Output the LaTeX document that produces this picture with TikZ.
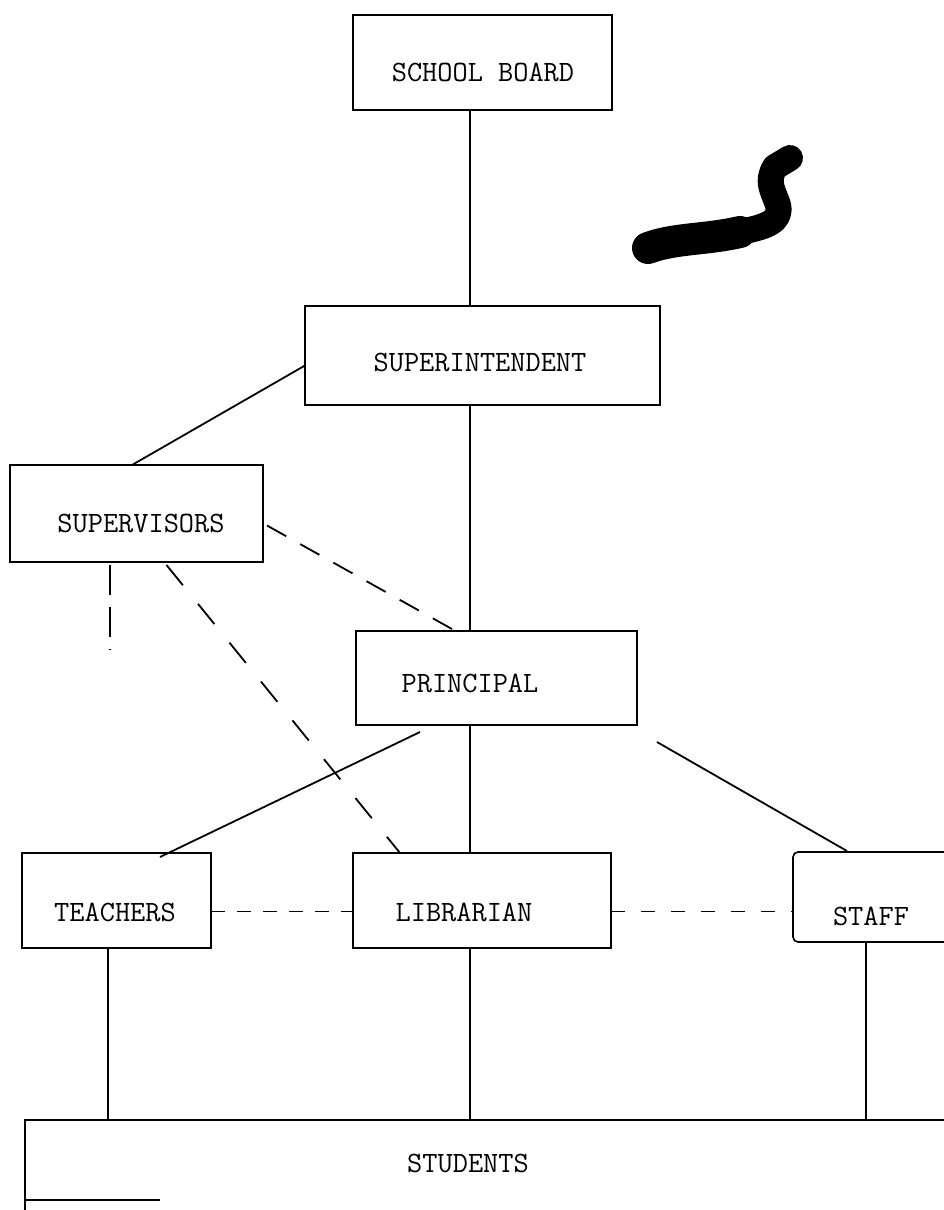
\documentclass[tikz,border=0pt]{standalone}
\usetikzlibrary{calc}
\newcommand\lbl[3]{\raisebox{\dimexpr-#2-9pt\relax}[0pt][0pt]{\makebox[0pt]{\kern#1\relax #3\kern-#1\relax}}}
\begin{document}
\begin{tikzpicture}[x=1pt,y=-1pt,
  box/.style={draw, line width=1.6pt, rectangle, inner sep=0pt, outer sep=0pt,
              font=\fontsize{29.5}{32}\selectfont\ttfamily},
  openbox/.style={box, draw=none},
  solidc/.style={line width=1.8pt},
  thinc/.style={line width=1.1pt},
  dashc/.style={line width=1.8pt, dash pattern=on 22pt off 16pt},
  blob/.style={line cap=round, line join=round}]
\useasboundingbox (0,0) rectangle (944,1210);
\clip (0,0) rectangle (944,1210);
\fill[white] (0,0) rectangle (944,1210);

\coordinate (colx) at (470,0);

\node[box, minimum width=259pt, minimum height=95pt] (SB) at (482.5,62.5) {\lbl{0.5pt}{9.5pt}{SCHOOL BOARD}};
\node[box, minimum width=355pt, minimum height=99pt] (SI) at (482.5,355.5) {\lbl{-2.5pt}{6.5pt}{SUPERINTENDENT}};
\node[box, minimum width=253pt, minimum height=97pt] (SV) at (136.5,513.5) {\lbl{4.5pt}{9.5pt}{SUPERVISORS}};
\node[box, minimum width=281pt, minimum height=94pt] (PR) at (496.5,678) {\lbl{-26.5pt}{5pt}{PRINCIPAL}};
\node[box, minimum width=189pt, minimum height=95pt] (TE) at (116.5,900.5) {\lbl{-1.5pt}{11.5pt}{TEACHERS}};
\node[box, minimum width=258pt, minimum height=95pt] (LI) at (482,900.5) {\lbl{-18pt}{11.5pt}{LIBRARIAN}};
\node[box, rounded corners=5pt, minimum width=182pt, minimum height=90pt] (ST) at (884,897) {\lbl{-13pt}{19pt}{STAFF}};
\node[openbox, minimum width=950pt, minimum height=80pt] (STU) at (500,1160) {\lbl{-32pt}{3pt}{STUDENTS}};
\draw[line width=1.6pt] ([yshift=-15pt]STU.south west) |- (STU.north east);
\draw[line width=1.6pt] (STU.south west) -- ++(135,0);

% vertical trunk
\draw[thinc] (SB.south -| colx) -- (SI.north -| colx);
\draw[thinc] (SI.south -| colx) -- (PR.north -| colx);
\draw[thinc] (PR.south -| colx) -- (LI.north -| colx);
\draw[thinc] (LI.south -| colx) -- (STU.north -| colx);

% solid connectors
\draw[solidc] ([yshift=-10pt]SI.west) -- ([xshift=-4.5pt]SV.north);
\draw[solidc] ([xshift=-76.5pt,yshift=-7pt]PR.south) -- ([xshift=43.5pt,yshift=-4pt]TE.north);
\draw[solidc] ([xshift=20pt,yshift=-17pt]PR.south east) -- ([xshift=54pt,yshift=1pt]ST.north west);
\draw[thinc] ([xshift=-8.5pt]TE.south) -- ([xshift=-8.5pt]TE.south |- STU.north);
\draw[thinc] ([xshift=-18pt]ST.south) -- ([xshift=-18pt]ST.south |- STU.north);

% dashed connectors
\coordinate (svend) at (110,650);
\draw[dashc] ([xshift=4pt,yshift=-12pt]SV.east) -- ([xshift=-41pt]PR.north);
\draw[dashc, dash pattern=on 26pt off 24pt] ([xshift=30pt,yshift=-3pt]SV.south) -- ([xshift=-82pt]LI.north);
\draw[thinc, dash pattern=on 30pt off 12pt] ([xshift=-26.5pt,yshift=-3pt]SV.south) -- (svend);
\draw[dashc, dash pattern=on 14pt off 12pt] ([yshift=-11pt]TE.east) -- ([yshift=-11pt]LI.west);
\draw[dashc, dash pattern=on 14pt off 16pt] ([yshift=-11pt]LI.east) -- ([yshift=-11pt]LI.east -| ST.west);

% ink blot
\draw[blob, line width=32pt] (648,248) .. controls (675,238) and (705,240) .. (740,232);
\draw[blob, line width=26pt] (740,232) .. controls (765,227) and (782,222) .. (778,205)
      .. controls (773,190) and (766,182) .. (775,167) -- (790,158);
\end{tikzpicture}
\end{document}
